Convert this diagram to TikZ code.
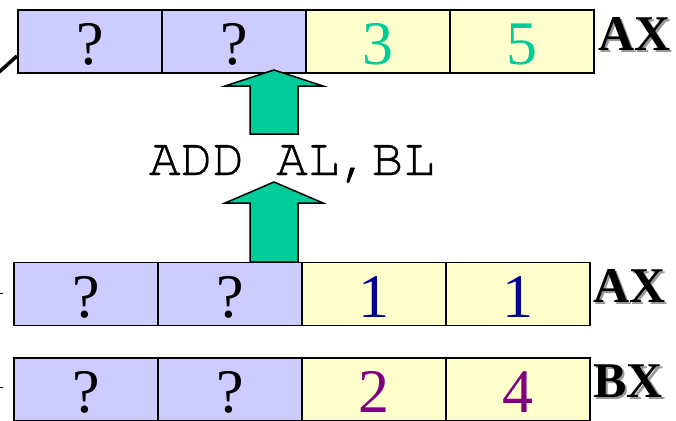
\documentclass[tikz,border=0pt]{standalone}
\usepackage{fontspec}
\setmainfont{Liberation Serif}
\setmonofont[FakeBold=0.8]{texgyrecursor-regular.otf}
\usepackage{tikz}
\definecolor{regHi}{RGB}{204,204,255}
\definecolor{regLo}{RGB}{255,255,204}
\definecolor{addGreen}{RGB}{0,204,153}
\definecolor{valBlue}{RGB}{0,0,153}
\definecolor{valPurple}{RGB}{128,0,128}
\newcommand{\regname}[1]{\makebox[0pt][l]{\hspace{2.5pt}\raisebox{-2.5pt}{\textcolor{black!40}{#1}}}#1}

\begin{document}
\begin{tikzpicture}[x=1pt,y=-1pt,
  cell/.style={draw,line width=1.5pt,minimum width=144pt,minimum height=63pt,
    inner sep=0pt,text height=46pt,text depth=0pt,font=\fontsize{62}{62}\selectfont},
  hi/.style={cell,fill=regHi},
  lo/.style={cell,fill=regLo},
  reg/.style={font=\fontsize{50}{50}\selectfont\bfseries,inner sep=0pt,anchor=base west},
  blk/.style={draw,line width=1.5pt,fill=addGreen,line join=miter}]
\useasboundingbox (0,0) rectangle (676,420);

% AX after the add
\coordinate (feed) at (-12,82);
\coordinate (feedEnd) at (17,56);
\draw[line width=3.5pt] (feed) -- (feedEnd);
\node[hi] (axNewA) at (90,41.5) {?};
\node[hi] (axNewB) at (234,41.5) {?};
\node[lo,text=addGreen] (axNewC) at (378,41.5) {3};
\node[lo,text=addGreen] (axNewD) at (522,41.5) {5};
\node[reg] (axNew) at (598,50) {\regname{AX}};

% AX and BX before the add
\coordinate (inAX) at (-5,293);
\coordinate (inBX) at (-5,387);
\draw[line width=1pt] (inAX) -- ++(8,0);
\draw[line width=1pt] (inBX) -- ++(8,0);
\node[hi] (axOldA) at (86,294) {?};
\node[hi] (axOldB) at (230,294) {?};
\node[lo,text=valBlue] (axOldC) at (374,294) {1};
\node[lo,text=valBlue] (axOldD) at (518,294) {1};
\node[reg] (axOld) at (593,302) {\regname{AX}};
\node[hi] (bxA) at (86,389.5) {?};
\node[hi] (bxB) at (230,389.5) {?};
\node[lo,text=valPurple] (bxC) at (374,389.5) {2};
\node[lo,text=valPurple] (bxD) at (518,389.5) {4};
\node[reg] (bx) at (593,397) {\regname{BX}};

% instruction with the two block arrows
\node[font=\fontsize{53}{53}\selectfont\ttfamily,inner sep=0pt,anchor=base] (instr) at (292,175) {ADD AL,BL};
\coordinate (arrLow) at (274,262);
\coordinate (arrHigh) at (274,134);
\draw[blk] (arrLow) -- ++(-24,0) -- ++(0,-59) -- ++(-25,0) -- ++(49,-21)
  -- ++(49,21) -- ++(-25,0) -- ++(0,59) -- cycle;
\draw[blk] (arrHigh) -- ++(-24,0) -- ++(0,-48) -- ++(-25,0) -- ++(49,-16)
  -- ++(49,16) -- ++(-25,0) -- ++(0,48) -- cycle;
\end{tikzpicture}
\end{document}
